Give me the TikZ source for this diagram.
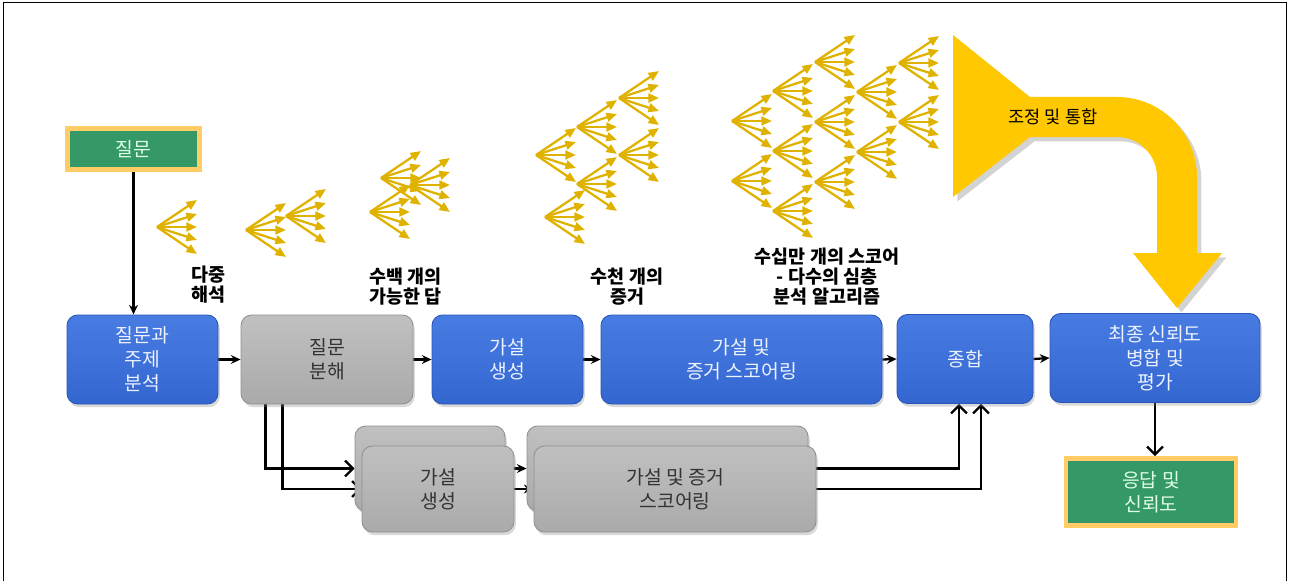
\documentclass[tikz,border=0pt]{standalone}
\usepackage{fontspec}
\newfontfamily\kr{Noto Sans CJK KR}
\usetikzlibrary{arrows.meta,shadows,calc,backgrounds}
\definecolor{bblueT}{RGB}{72,124,226}
\definecolor{bblueB}{RGB}{52,102,208}
\definecolor{bblueD}{RGB}{42,86,182}
\definecolor{bgrayT}{RGB}{192,192,192}
\definecolor{bgrayB}{RGB}{170,170,170}
\definecolor{bgrayD}{RGB}{145,145,145}
\definecolor{qgreen}{RGB}{52,153,103}
\definecolor{qorange}{RGB}{255,204,102}
\definecolor{fanc}{RGB}{224,178,0}
\definecolor{yel}{RGB}{255,200,0}
\definecolor{lighttext}{RGB}{236,242,255}
\tikzset{
 boxbase/.style={rounded corners=6pt, align=center, inner sep=0pt, line width=0.5pt,
   font=\kr\fontsize{11}{13.6}\selectfont,
   drop shadow={opacity=0.3,shadow xshift=1pt,shadow yshift=-1.8pt}},
 bluebox/.style={boxbase, draw=bblueD, top color=bblueT, bottom color=bblueB, text=lighttext},
 graybox/.style={boxbase, draw=bgrayD, top color=bgrayT, bottom color=bgrayB, text=black!80},
 termbox/.style={fill=qgreen, draw=qorange, line width=2.8pt, text=white!88!green,
   font=\kr\fontsize{11}{13.6}\selectfont, align=center, inner sep=0pt},
 lbl/.style={font=\kr\bfseries\fontsize{10.5}{11.4}\selectfont, inner sep=0pt},
 flowarrow/.style={line width=1.3pt, -{Stealth[length=5.5pt,width=5pt]}},
 openarrow/.style={line width=1.3pt, -{Straight Barb[length=4.5pt,width=9pt]}},
 fanarrow/.style={draw=fanc, line width=1.3pt, -{Triangle[length=6pt,width=5pt]}},
}
\tikzset{wh/.style n args={2}{minimum width=#1*0.02cm, minimum height=#2*0.02cm}}
\tikzset{pics/fan/.style={code={
  \draw[fanarrow] (0,0) -- (40,-27);
  \draw[fanarrow] (0,0) -- (40,-13);
  \draw[fanarrow] (0,0) -- (40,0);
  \draw[fanarrow] (0,0) -- (40,13);
  \draw[fanarrow] (0,0) -- (40,27);}}}
\begin{document}
\begin{tikzpicture}[x=0.02cm,y=-0.02cm]
\useasboundingbox (0,0) rectangle (1290,581);
\draw[line width=1.1pt] (3.5,581) -- (3.5,2.5) -- (1286.5,2.5) -- (1286.5,581);

% fans
\foreach \p in {(157,227),(246,230),(286,216),(370,212),(381,178),(410,185),
  (536,155),(577,127),(619,98),(619,155),(577,184),(545,217),
  (732,121),(732,181),(773,91),(773,151),(773,211),(815,62),(815,122),(815,182),
  (857,92),(857,152),(899,63),(899,122)}
  \pic at \p {fan};

% big yellow arrow
\fill[yel, drop shadow={opacity=0.35,shadow xshift=2.5pt,shadow yshift=-2.5pt}]
  (953,35) -- (1030,97) -- (1117,97) arc[start angle=-90,end angle=0,radius=80]
  -- (1197,253) -- (1222,253) -- (1177,308) -- (1133,253) -- (1157,253)
  -- (1157,177) arc[start angle=0,end angle=-90,radius=40]
  -- (1030,137) -- (953,197) -- cycle;
\node[font=\kr\fontsize{10}{12}\selectfont, inner sep=0pt] (adj) at (1053,117) {조정 및 통합};

% nodes
\node[termbox, wh={132}{41}] (q) at (133.5,149) {질문};
\node[bluebox, wh={151}{89}] (a1) at (142.5,359.5) {질문과\\주제\\분석};
\node[graybox, wh={172}{89}] (a2) at (327,359.5) {질문\\분해};
\node[bluebox, wh={151}{89}] (a3) at (507.5,359.5) {가설\\생성};
\node[bluebox, wh={281}{89}] (a4) at (741.5,359.5) {가설 및\\증거 스코어링};
\node[bluebox, wh={136}{89}] (a5) at (965,359) {종합};
\node[bluebox, wh={210}{89}] (a6) at (1155,358) {최종 신뢰도\\병합 및\\평가};
\node[termbox, wh={170}{67}] (ans) at (1151,492) {응답 및\\신뢰도};
\node[graybox, wh={150}{85}] (b1back) at (430,468.5) {};
\node[graybox, wh={152}{86}] (b1) at (438,489) {가설\\생성};
\node[graybox, wh={281}{85}] (b2back) at (667.5,468.5) {};
\node[graybox, wh={282}{86}] (b2) at (675,489) {가설 및 증거\\스코어링};

% labels
\node[lbl, anchor=west, align=left] (l1) at (191,285) {다중\\해석};
\node[lbl, anchor=west, align=left] (l2) at (369,287) {수백 개의\\가능한 답};
\node[lbl, align=center] (l3) at (627,287) {수천 개의\\증거};
\node[lbl, align=center] (l4) at (827,277) {수십만 개의 스코어\\- 다수의 심층\\분석 알고리즘};

% connectors
\begin{scope}[on background layer]
\draw[flowarrow] (q.south) -- (q.south |- a1.north);
\draw[flowarrow] (a1.east) -- (a2.west);
\draw[flowarrow] (a2.east) -- (a3.west);
\draw[flowarrow] (a3.east) -- (a4.west);
\draw[flowarrow] (a4.east) -- (a5.west);
\draw[flowarrow] (a5.east) -- (a6.west);
\draw[openarrow] ($(a2.south west)+(25,0)$) |- (b1back.west);
\draw[openarrow] ($(a2.south west)+(42,0)$) |- (b1.west);
\draw[flowarrow] (b1back.east) -- (b2back.west);
\draw[flowarrow] (b1.east) -- (b2.west);
\draw[openarrow] (b2back.east) -| ($(a5.south)+(-6,0)$);
\draw[openarrow] (b2.east) -| ($(a5.south)+(16,0)$);
\draw[openarrow] (a6.south) -- (a6.south |- ans.north);
\end{scope}
\end{tikzpicture}
\end{document}
